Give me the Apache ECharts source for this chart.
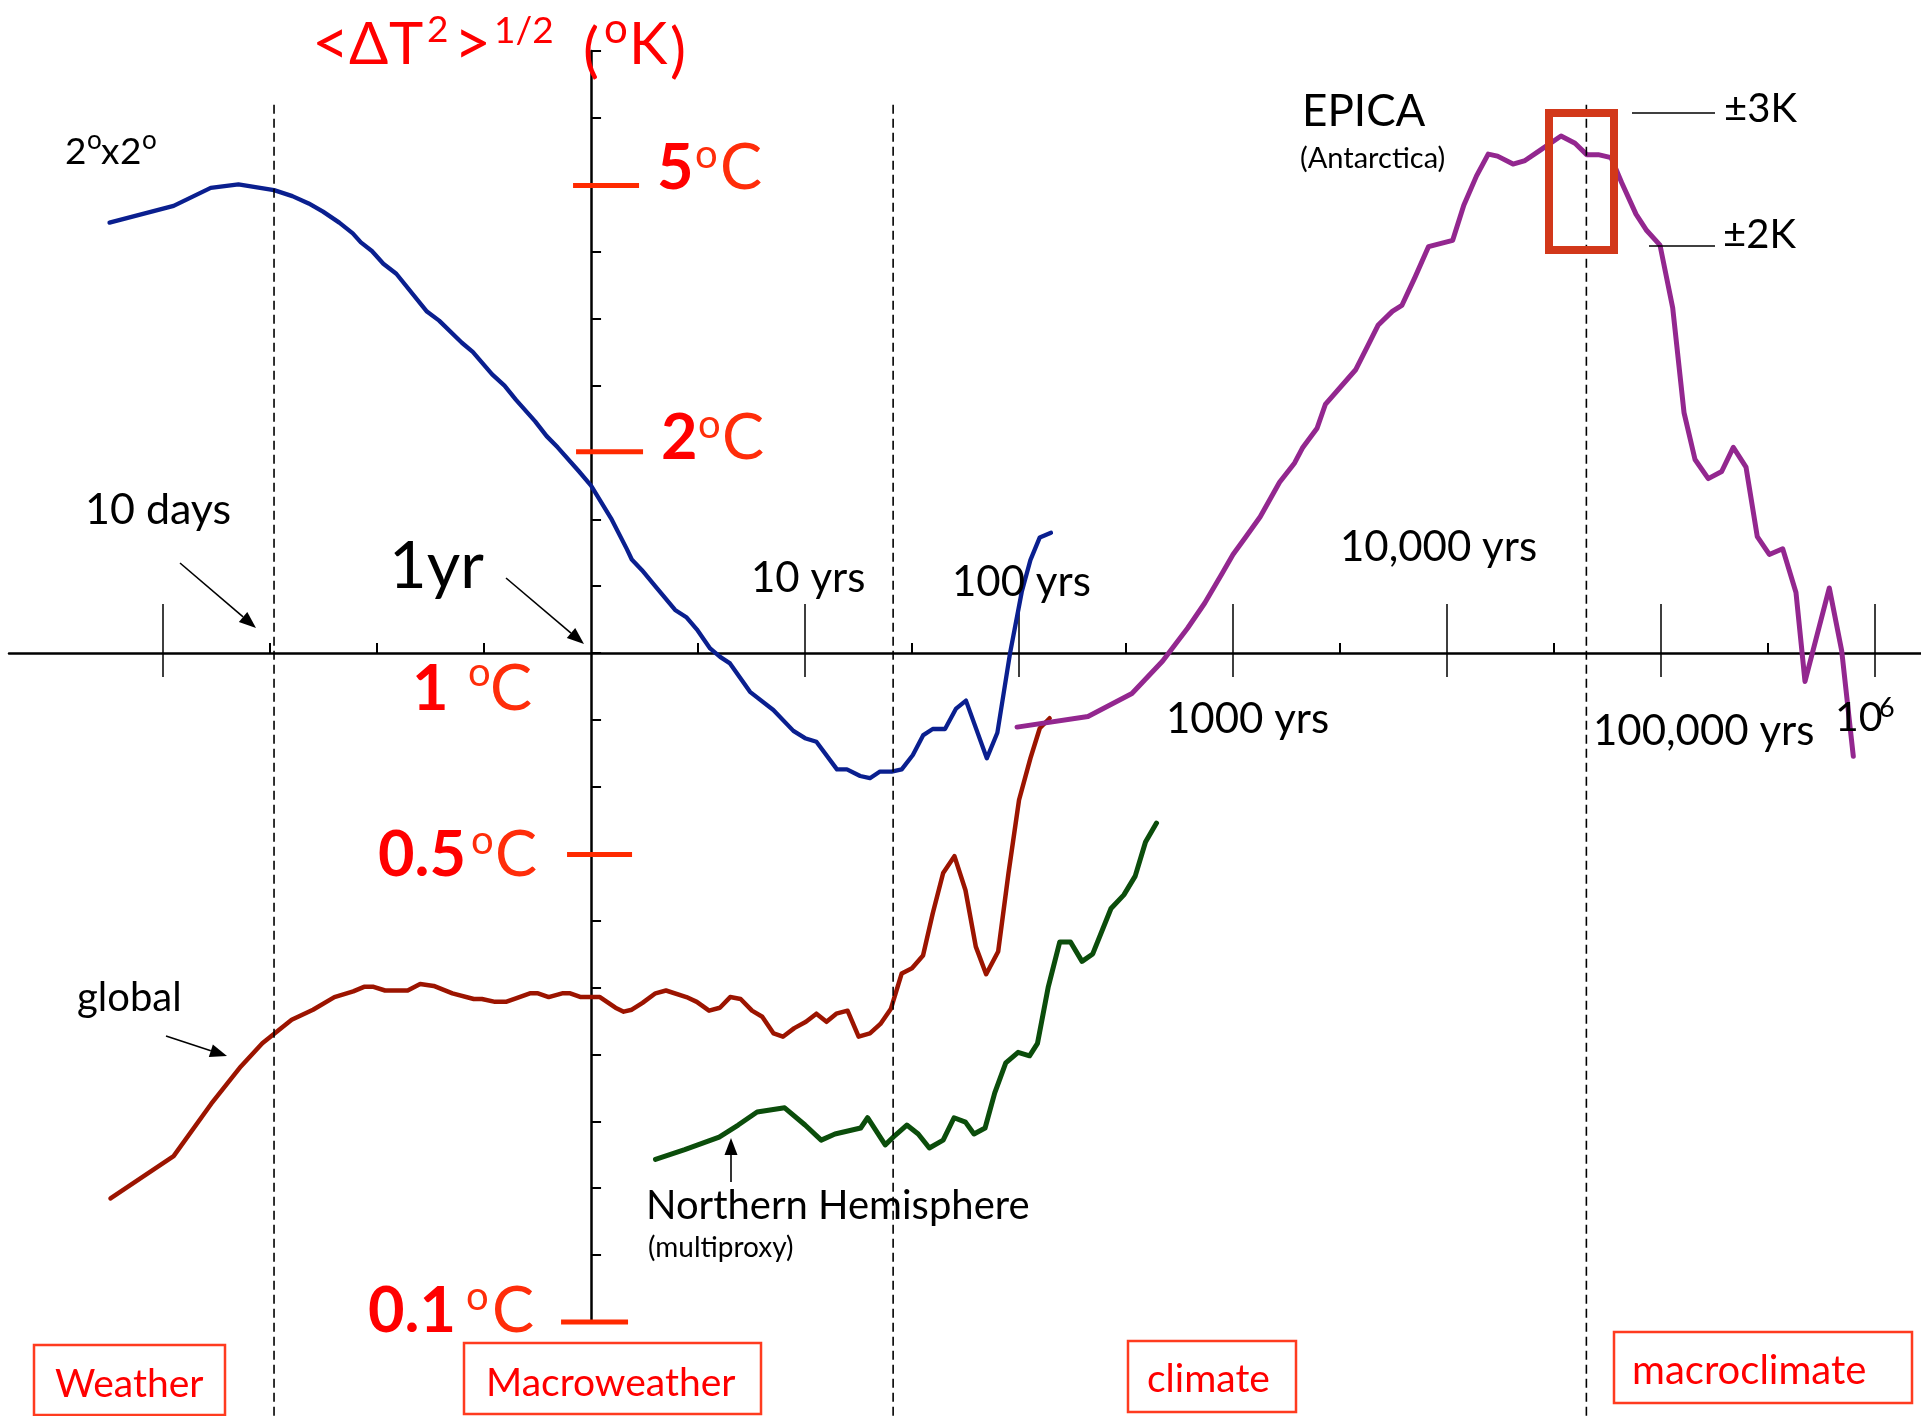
<!DOCTYPE html>
<html>
<head>
<meta charset="utf-8">
<script src="https://cdn.jsdelivr.net/npm/echarts@6/dist/echarts.min.js"></script>
<style>
html,body{margin:0;padding:0;background:#fff;}
#chart{width:1921px;height:1416px;}
</style>
</head>
<body>
<div id="chart"></div>
<script>
// ---------------- DATA (time scale in years, RMS fluctuation in K) ----------------
const blueYears = [0.00562,0.0112,0.0167,0.0225,0.0330,0.0402,0.0479,0.0559,0.0666,0.0770,0.0840,0.0946,0.107,0.123,0.171,0.195,0.249,0.280,0.345,0.394,0.446,0.548,0.620,0.698,0.877,1.00,1.24,1.47,1.55,1.73,1.99,2.47,2.80,3.12,3.60,4.01,4.46,5.53,7.11,8.82,10.0,11.3,14.1,15.7,18.1,20.1,22.4,25.4,28.3,31.9,35.7,39.5,45.1,50.8,56.5,70.7,79.2,90.8,103,113,125,141];
const blueAmp = [4.40,4.66,4.96,5.02,4.92,4.82,4.70,4.57,4.40,4.24,4.11,3.99,3.82,3.69,3.24,3.14,2.91,2.82,2.61,2.51,2.39,2.22,2.11,2.03,1.87,1.78,1.59,1.43,1.38,1.33,1.26,1.16,1.13,1.085,1.016,0.987,0.965,0.875,0.822,0.765,0.746,0.737,0.670,0.670,0.655,0.650,0.665,0.665,0.670,0.704,0.754,0.770,0.770,0.826,0.849,0.696,0.760,1.00,1.235,1.377,1.489,1.513];

const globalYears = [0.00568,0.0112,0.0168,0.0231,0.0291,0.0399,0.0502,0.0632,0.0774,0.0869,0.0963,0.109,0.139,0.159,0.184,0.225,0.283,0.309,0.356,0.400,0.449,0.518,0.565,0.634,0.733,0.799,0.896,1.10,1.30,1.42,1.55,1.74,2.00,2.24,2.79,3.12,3.56,4.00,4.47,5.00,5.65,6.31,7.13,7.88,8.91,10.1,11.3,12.6,14.0,15.8,17.8,20.1,22.5,25.2,28.3,31.6,35.6,39.5,44.2,49.9,56.2,62.8,70.2,79.9,89.3,100,113,125,139];
const globalAmp = [0.153,0.177,0.212,0.241,0.261,0.283,0.293,0.306,0.312,0.317,0.317,0.313,0.313,0.320,0.318,0.310,0.304,0.304,0.301,0.301,0.305,0.310,0.310,0.306,0.310,0.310,0.306,0.306,0.295,0.291,0.293,0.300,0.310,0.313,0.306,0.301,0.292,0.295,0.306,0.304,0.292,0.286,0.270,0.267,0.275,0.281,0.289,0.281,0.289,0.292,0.267,0.270,0.279,0.294,0.332,0.338,0.353,0.408,0.469,0.497,0.442,0.364,0.331,0.358,0.469,0.603,0.696,0.772,0.799];

const nhYears = [2.00,2.74,3.97,4.87,5.97,8.03,10.0,11.9,13.8,18.2,19.6,23.7,26.3,29.9,33.8,38.1,44.2,49.7,56.2,61.6,69.4,77.0,86.7,99.0,112,122,137,155,174,197,221,269,309,349,390,439];
const nhAmp = [0.175,0.181,0.189,0.197,0.206,0.209,0.197,0.187,0.191,0.195,0.202,0.184,0.190,0.197,0.191,0.182,0.187,0.202,0.199,0.191,0.195,0.220,0.244,0.253,0.250,0.261,0.317,0.370,0.370,0.346,0.355,0.415,0.435,0.464,0.522,0.557];

const epicaYears = [97.9,210,337,469,613,738,889,1000,1140,1340,1650,1940,2110,2470,2700,3750,4250,4760,5550,6150,7100,8200,10630,11980,13740,15580,17220,20340,23150,27080,34100,39640,44960,50930,58400,65530,76410,85750,98920,113400,128100,144200,166300,192100,217700,249600,281800,320700,370400,427300,470900,611700,698900,791800];
const epicaAmp = [0.775,0.804,0.870,0.973,1.089,1.188,1.315,1.404,1.487,1.599,1.800,1.924,2.025,2.168,2.353,2.654,2.874,3.090,3.242,3.308,3.650,4.052,4.140,4.670,5.168,5.570,5.532,5.382,5.448,5.638,5.928,5.781,5.560,5.560,5.504,5.048,4.531,4.282,4.072,3.283,2.288,1.947,1.823,1.868,2.030,1.897,1.493,1.404,1.432,1.232,0.907,1.251,1.008,0.701];

// axis ticks (years) and temperature marks (K)
const decadeTickYears = [0.01,10,100,1000,10000,100000,1000000];
const halfDecadeTickYears = [0.0316,0.1,0.316,3.16,31.6,316,3160,31600,316000];
const tempMarks = [5,2,0.5,0.1];
const regimeBreakYears = [0.033,25.8,44800];

// ---------------- CHART ----------------
const FONT = 'Lato, "Open Sans", "DejaVu Sans", sans-serif';
const chart = echarts.init(document.getElementById('chart'), null, {width:1921, height:1416});
const toPts = (ys, as) => ys.map((t, i) => [Math.log10(t), Math.log10(as[i])]);
const lg = v => Math.log10(v);
const XMIN = -2.72, XMAX = 6.215;

function baseX(extra) {
  return Object.assign({
    type: 'value', min: XMIN, max: XMAX,
    axisLabel: {show: false}, splitLine: {show: false}
  }, extra);
}
function lineSeries(name, data, color, width, z) {
  return {
    name, type: 'line', data, showSymbol: false, symbol: 'none', smooth: false,
    silent: true, z: z, clip: false,
    lineStyle: {color, width, join: 'round', cap: 'round'}
  };
}

chart.setOption({
  animation: false,
  backgroundColor: '#ffffff',
  grid: {left: 9, right: 0, top: 51, bottom: 94},
  xAxis: [
    baseX({
      position: 'bottom',
      axisLine: {show: true, onZero: true, onZeroAxisIndex: 0, lineStyle: {color: '#000', width: 2.5}},
      axisTick: {show: true, customValues: decadeTickYears.map(lg), inside: true, length: 49, lineStyle: {color: '#000', width: 1.5}}
    }),
    baseX({
      position: 'top',
      axisLine: {show: false, onZero: true, onZeroAxisIndex: 0},
      axisTick: {show: true, customValues: decadeTickYears.map(lg), inside: true, length: 24, lineStyle: {color: '#000', width: 1.5}}
    }),
    baseX({
      position: 'bottom',
      axisLine: {show: false, onZero: true, onZeroAxisIndex: 0},
      axisTick: {show: true, customValues: halfDecadeTickYears.map(lg), inside: true, length: 10, lineStyle: {color: '#000', width: 2}}
    })
  ],
  yAxis: [{
    type: 'value', min: -1, max: 0.9, interval: 0.1,
    axisLine: {show: true, onZero: true, lineStyle: {color: '#000', width: 2.5}},
    axisTick: {show: true, inside: true, length: 10, lineStyle: {color: '#000', width: 2}},
    axisLabel: {show: false}, splitLine: {show: false}
  }],
  series: [
    lineSeries('2°x2°', toPts(blueYears, blueAmp), '#0a1f8f', 4.3, 3),
    lineSeries('global', toPts(globalYears, globalAmp), '#9c1400', 4.5, 3),
    lineSeries('Northern Hemisphere', toPts(nhYears, nhAmp), '#0b4d0b', 5, 3),
    lineSeries('EPICA', toPts(epicaYears, epicaAmp), '#93278f', 5, 4)
  ]
});

// ---------------- ANNOTATIONS ----------------
const px = (t, a) => chart.convertToPixel({xAxisIndex: 0, yAxisIndex: 0}, [lg(t), lg(a)]);
const RED = '#ff0000', ORANGE = '#ff2d0a';

function txt(str, x, baseline, size, color, weight) {
  return {
    type: 'text', z: 100, silent: true,
    style: {
      text: str, x: x, y: baseline - 0.36 * size,
      fill: color || '#000',
      font: (weight || 'normal') + ' ' + size + 'px ' + FONT,
      align: 'left', verticalAlign: 'middle', textAlign: 'left', textVerticalAlign: 'middle'
    }
  };
}
function seg(x1, y1, x2, y2, color, w, dash) {
  return {type: 'line', z: 90, silent: true, shape: {x1, y1, x2, y2},
    style: {stroke: color, lineWidth: w, lineDash: dash || null}};
}
function box(x1, y1, x2, y2, color, w) {
  return {type: 'rect', z: 95, silent: true, shape: {x: x1, y: y1, width: x2 - x1, height: y2 - y1},
    style: {fill: 'none', stroke: color, lineWidth: w}};
}
function arrow(x1, y1, x2, y2) {
  const dx = x2 - x1, dy = y2 - y1, L = Math.hypot(dx, dy), ux = dx / L, uy = dy / L;
  const hl = 17, hw = 6.5;
  const bx = x2 - ux * hl, by = y2 - uy * hl;
  return [
    seg(x1, y1, bx, by, '#000', 1.6),
    {type: 'polygon', z: 96, silent: true,
      shape: {points: [[x2, y2], [bx - uy * hw, by + ux * hw], [bx + uy * hw, by - ux * hw]]},
      style: {fill: '#000'}}
  ];
}

const els = [];
// regime boundaries (dashed verticals)
regimeBreakYears.forEach(t => {
  const top = px(t, 6.6), bot = px(t, 0.07);
  els.push(seg(top[0], top[1], bot[0], bot[1], '#000', 1.6, [9, 5]));
});
// red temperature marks on the vertical axis
const markReach = [[-18, 48], [-15, 52], [-24, 41], [-30, 37]];
tempMarks.forEach((a, i) => {
  const p = px(1, a);
  els.push(seg(p[0] + markReach[i][0], p[1], p[0] + markReach[i][1], p[1], '#ff2a00', 5));
});

// vertical-axis title
els.push(txt('<', 312, 67, 64, RED));
els.push(txt('\u0394', 349, 66, 58, RED));
els.push(txt('T', 389, 66, 58, RED));
els.push(txt('2', 427, 43, 37, RED));
els.push(txt('>', 454, 67, 64, RED));
els.push(txt('1/2', 494, 44, 37, RED));
els.push(txt('(', 583, 73, 60, RED));
els.push(txt('o', 604, 45, 42, RED));
els.push(txt('K', 629, 66, 58, RED));
els.push(txt(')', 670, 73, 60, RED));

// temperature labels
function tempLabel(num, xNum, xO, xC, baseline, oBase) {
  els.push(txt(num, xNum, baseline, 63, RED, 'bold'));
  els.push(txt('o', xO, oBase, 40, ORANGE));
  els.push(txt('C', xC, baseline, 63, ORANGE));
}
tempLabel('5', 657, 695, 720, 191, 169);
tempLabel('2', 661, 698, 722, 461, 439);
tempLabel('1', 412, 468, 490, 712, 687);
tempLabel('0.5', 378, 471, 495, 878, 855);
tempLabel('0.1', 368, 466, 492, 1334, 1311);

// time-scale labels
els.push(txt('10 days', 85, 526, 43));
els.push(txt('1yr', 389, 590, 65));
els.push(txt('10 yrs', 751, 594, 42));
els.push(txt('100 yrs', 952, 598, 42));
els.push(txt('1000 yrs', 1166, 735, 42));
els.push(txt('10,000 yrs', 1340, 563, 42));
els.push(txt('100,000 yrs', 1593, 747, 42));
els.push(txt('10', 1835, 733, 41));
els.push(txt('6', 1879, 718, 27));

// series labels
els.push(txt('2', 65, 165, 37));
els.push(txt('o', 87, 150, 26));
els.push(txt('x', 101, 165, 37));
els.push(txt('2', 120, 165, 37));
els.push(txt('o', 142, 150, 26));
els.push(txt('global', 77, 1012, 40));
els.push(txt('Northern Hemisphere', 646, 1220, 40));
els.push(txt('(multiproxy)', 648, 1258, 28));
els.push(txt('EPICA', 1302, 128, 44));
els.push(txt('(Antarctica)', 1300, 169, 29));
els.push(txt('\u00b13K', 1724, 123, 40));
els.push(txt('\u00b12K', 1723, 249, 40));
els.push(seg(1632, 113, 1715, 113, '#000', 1.5));
els.push(seg(1649, 246, 1715, 246, '#000', 1.5));
els.push(box(1549, 113, 1614, 250, '#d2381a', 8));

// arrows
els.push(...arrow(180, 563, 256, 628));
els.push(...arrow(506, 578, 584, 644));
els.push(...arrow(166, 1036, 227, 1056));
els.push(...arrow(731, 1182, 731, 1138));

// regime boxes
const BOXC = '#ff3b1f';
els.push(box(34, 1345, 225, 1415, BOXC, 2.5));
els.push(txt('Weather', 55, 1398, 39, RED));
els.push(box(464, 1343, 761, 1414, BOXC, 2.5));
els.push(txt('Macroweather', 486, 1397, 39, RED));
els.push(box(1128, 1341, 1296, 1412, BOXC, 2.5));
els.push(txt('climate', 1147, 1393, 39, RED));
els.push(box(1614, 1332, 1912, 1403, BOXC, 2.5));
els.push(txt('macroclimate', 1632, 1385, 40, RED));

chart.setOption({graphic: {elements: els}});
</script>
</body>
</html>
